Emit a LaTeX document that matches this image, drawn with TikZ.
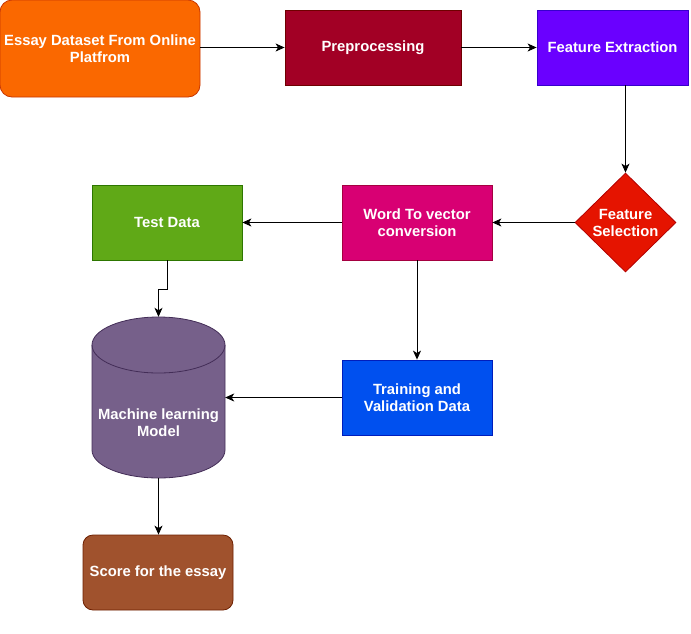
\documentclass[tikz,border=0pt]{standalone}
\usepackage{fontspec}
\setmainfont{Liberation Sans}
\usetikzlibrary{shapes.geometric,arrows.meta}
\definecolor{cOrange}{HTML}{FA6800}\definecolor{sOrange}{HTML}{C73500}
\definecolor{cCrimson}{HTML}{A20025}\definecolor{sCrimson}{HTML}{6F0000}
\definecolor{cViolet}{HTML}{6A00FF}\definecolor{sViolet}{HTML}{3700CC}
\definecolor{cRed}{HTML}{E51400}\definecolor{sRed}{HTML}{B20000}
\definecolor{cMagenta}{HTML}{D80073}\definecolor{sMagenta}{HTML}{A50040}
\definecolor{cGreen}{HTML}{60A917}\definecolor{sGreen}{HTML}{2D7600}
\definecolor{cPurple}{HTML}{76608A}\definecolor{sPurple}{HTML}{432D57}
\definecolor{cBlue}{HTML}{0050EF}\definecolor{sBlue}{HTML}{001DBC}
\definecolor{cBrown}{HTML}{A0522D}\definecolor{sBrown}{HTML}{6D1F00}
\tikzset{
  lbl/.style={text=white, font=\fontsize{14.8}{17}\selectfont\bfseries, align=center},
  boxnode/.style={lbl, rectangle, draw, line width=0.8pt, inner sep=0pt, minimum width=150pt, minimum height=75pt},
  conn/.style={draw=black, line width=0.9pt, -{Stealth[length=9pt,width=8pt,inset=2.5pt]}}
}
\begin{document}
\begin{tikzpicture}[x=1pt,y=-1pt]
\useasboundingbox (0,0) rectangle (691,633);
% nodes
\node[boxnode, fill=cOrange, draw=sOrange, rounded corners=12pt, minimum width=200pt, minimum height=97pt] (essay) at (100,48.5) {Essay Dataset From Online\\Platfrom};
\node[boxnode, fill=cCrimson, draw=sCrimson, minimum width=176pt] (pre) at (373,47.5) {Preprocessing};
\node[boxnode, fill=cViolet, draw=sViolet, minimum width=151pt] (fe) at (612.5,47.5) {Feature Extraction};
\node[lbl, diamond, draw=sRed, fill=cRed, line width=0.8pt, inner sep=0pt, minimum width=101pt, minimum height=99pt] (fs) at (625.5,222.5) {Feature\\Selection};
\node[boxnode, fill=cMagenta, draw=sMagenta] (w2v) at (417,222.5) {Word To vector\\conversion};
\node[boxnode, fill=cGreen, draw=sGreen] (test) at (167,222.5) {Test Data};
\node[boxnode, fill=cBlue, draw=sBlue] (train) at (417,397.5) {Training and\\Validation Data};
\node[boxnode, fill=cBrown, draw=sBrown, rounded corners=10pt] (score) at (158,572.5) {Score for the essay};
% cylinder
\draw[fill=cPurple, draw=sPurple, line width=0.8pt]
  (92,345) -- (92,450) arc[start angle=180, end angle=360, x radius=66.5pt, y radius=28pt]
  -- (225,345) arc[start angle=0, end angle=180, x radius=66.5pt, y radius=28pt] -- cycle;
\draw[draw=sPurple, line width=0.8pt] (225,345) arc[start angle=0, end angle=-180, x radius=66.5pt, y radius=28pt];
\node[minimum width=133pt, minimum height=161pt, inner sep=0pt] (cyl) at (158.5,397.5) {};
\node[lbl] (cyltxt) at (158.5,423) {Machine learning\\Model};
% connectors
\coordinate (k1) at (167,289);
\coordinate (k2) at (158.5,289);
\draw[conn] (pre.west -| essay.east) -- (pre.west);
\draw[conn] (pre.east) -- (fe.west);
\draw[conn] (fe.south -| fs.north) -- (fs.north);
\draw[conn] (fs.west) -- (w2v.east);
\draw[conn] (w2v.west) -- (test.east);
\draw[conn] (test.south) -- (k1) -- (k2) -- (cyl.north);
\draw[conn] (w2v.south) -- (train.north);
\draw[conn] (train.west) -- (cyl.east);
\draw[conn] (cyl.south) -- (cyl.south |- score.north);
\end{tikzpicture}
\end{document}
